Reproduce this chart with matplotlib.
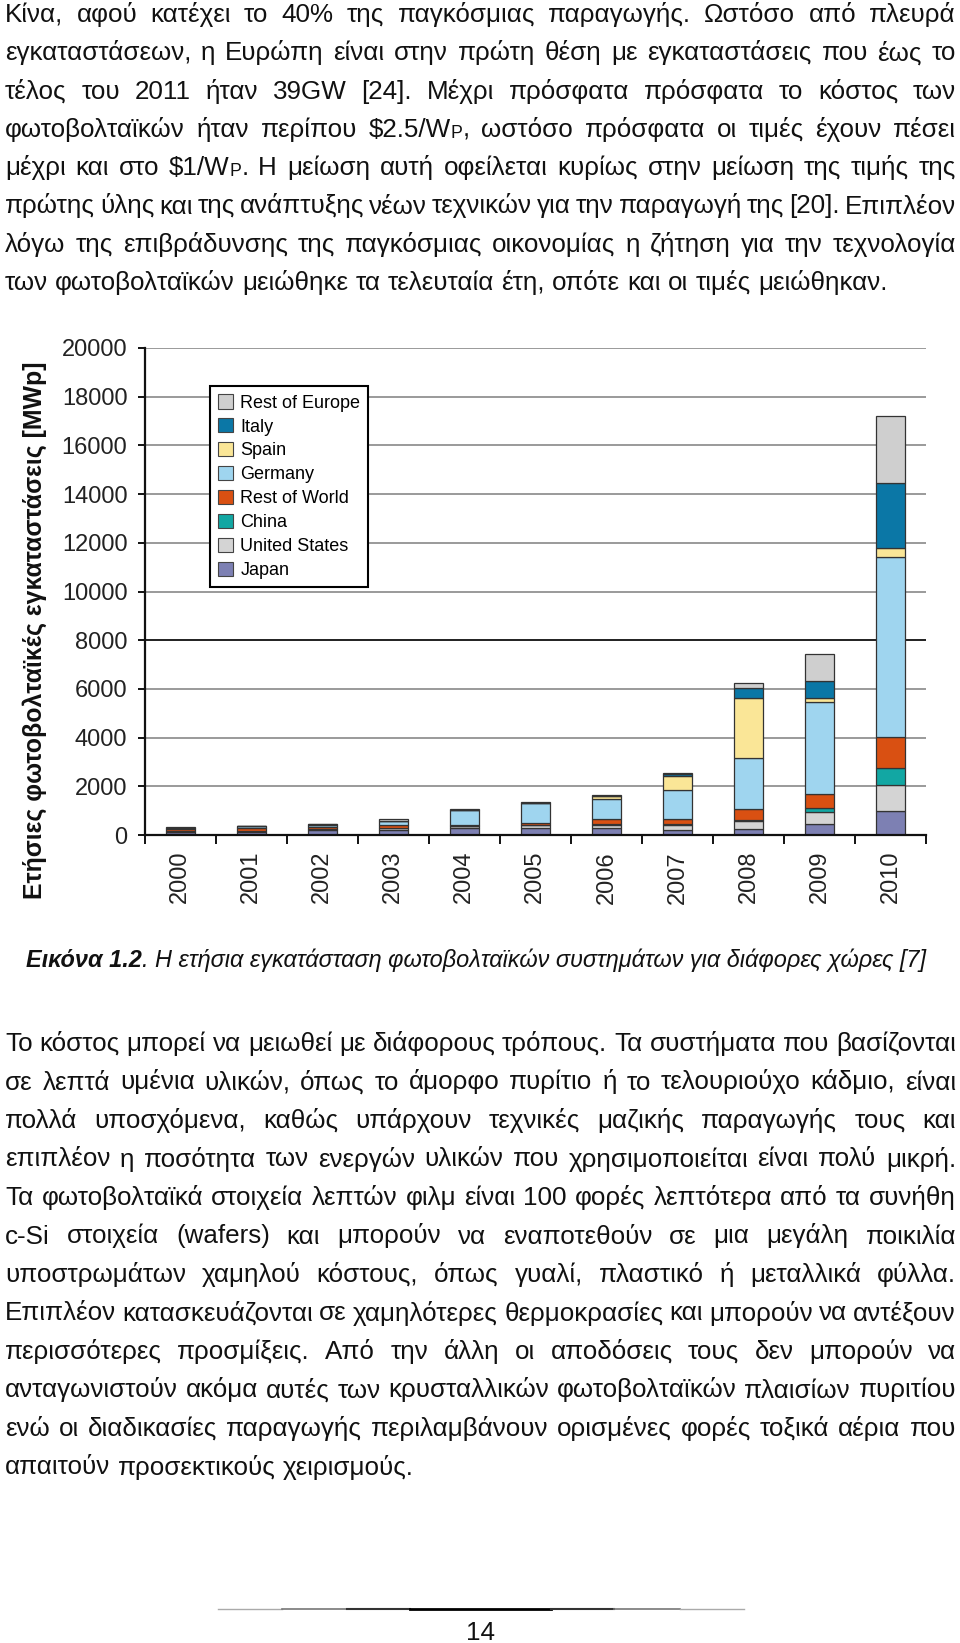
import re
import numpy as np
import matplotlib
matplotlib.use("Agg")
import matplotlib.pyplot as plt
from matplotlib.patches import Patch

# ---------------- data ----------------
years = ["2000", "2001", "2002", "2003", "2004", "2005", "2006", "2007", "2008", "2009", "2010"]
y_ticklabels = ["0", "2000", "4000", "6000", "8000", "10000", "12000", "14000", "16000", "18000", "20000"]
y_tickvalues = [0, 2000, 4000, 6000, 8000, 10000, 12000, 14000, 16000, 18000, 20000]

japan = [120, 135, 185, 220, 270, 300, 290, 210, 230, 470, 990]
united_states = [20, 30, 45, 65, 90, 110, 140, 210, 350, 485, 1060]
china = [5, 5, 5, 10, 10, 10, 10, 20, 50, 165, 710]
rest_of_world = [110, 100, 110, 120, 40, 60, 200, 210, 440, 550, 1270]
germany = [40, 80, 80, 150, 620, 820, 850, 1210, 2110, 3805, 7370]
spain = [5, 5, 5, 10, 10, 20, 100, 580, 2465, 165, 400]
italy = [5, 5, 5, 5, 5, 5, 20, 70, 380, 700, 2640]
rest_of_europe = [5, 10, 20, 60, 15, 15, 30, 50, 230, 1080, 2780]

series_names = ["Japan", "United States", "China", "Rest of World", "Germany", "Spain", "Italy", "Rest of Europe"]
series_values = [japan, united_states, china, rest_of_world, germany, spain, italy, rest_of_europe]
series_colors = ["#7d80b3", "#d4d4d4", "#12a7a3", "#d95012", "#9fd5ef", "#fae697", "#0b77a6", "#cfcfcf"]

ylabel = "Ετήσιες φωτοβολταϊκές εγκαταστάσεις [MWp]"

para1 = [
    "Κίνα, αφού κατέχει το 40% της παγκόσμιας παραγωγής. Ωστόσο από πλευρά",
    "εγκαταστάσεων, η Ευρώπη είναι στην πρώτη θέση με εγκαταστάσεις που έως το",
    "τέλος του 2011 ήταν 39GW [24]. Μέχρι πρόσφατα πρόσφατα το κόστος των",
    "φωτοβολταϊκών ήταν περίπου $2.5/W{P}, ωστόσο πρόσφατα οι τιμές έχουν πέσει",
    "μέχρι και στο $1/W{P}. Η μείωση αυτή οφείλεται κυρίως στην μείωση της τιμής της",
    "πρώτης ύλης και της ανάπτυξης νέων τεχνικών για την παραγωγή της [20]. Επιπλέον",
    "λόγω της επιβράδυνσης της παγκόσμιας οικονομίας η ζήτηση για την τεχνολογία",
    "των φωτοβολταϊκών μειώθηκε τα τελευταία έτη, οπότε και οι τιμές μειώθηκαν.",
]
para2 = [
    "Το κόστος μπορεί να μειωθεί με διάφορους τρόπους. Τα συστήματα που βασίζονται",
    "σε λεπτά υμένια υλικών, όπως το άμορφο πυρίτιο ή το τελουριούχο κάδμιο, είναι",
    "πολλά υποσχόμενα, καθώς υπάρχουν τεχνικές μαζικής παραγωγής τους και",
    "επιπλέον η ποσότητα των ενεργών υλικών που χρησιμοποιείται είναι πολύ μικρή.",
    "Τα φωτοβολταϊκά στοιχεία λεπτών φιλμ είναι 100 φορές λεπτότερα από τα συνήθη",
    "c-Si στοιχεία (wafers) και μπορούν να εναποτεθούν σε μια μεγάλη ποικιλία",
    "υποστρωμάτων χαμηλού κόστους, όπως γυαλί, πλαστικό ή μεταλλικά φύλλα.",
    "Επιπλέον κατασκευάζονται σε χαμηλότερες θερμοκρασίες και μπορούν να αντέξουν",
    "περισσότερες προσμίξεις. Από την άλλη οι αποδόσεις τους δεν μπορούν να",
    "ανταγωνιστούν ακόμα αυτές των κρυσταλλικών φωτοβολταϊκών πλαισίων πυριτίου",
    "ενώ οι διαδικασίες παραγωγής περιλαμβάνουν ορισμένες φορές τοξικά αέρια που",
    "απαιτούν προσεκτικούς χειρισμούς.",
]
caption_bold = "Εικόνα 1.2"
caption_rest = ". Η ετήσια εγκατάσταση φωτοβολταϊκών συστημάτων για διάφορες χώρες [7]"
page_number = "14"

# ---------------- page setup ----------------
W, H = 960, 1643
fig = plt.figure(figsize=(W / 100, H / 100), dpi=100)
fig.patch.set_facecolor("white")
R = fig.canvas.get_renderer()
BODY = ["Liberation Sans", "DejaVu Sans"]
TXT = "#111111"


def fx(x):
    return x / W


def fy(y):
    return 1 - y / H


def text_width(s, fs, weight="normal", style="normal"):
    t = fig.text(0, 0, s, fontsize=fs, fontweight=weight, fontstyle=style,
                 family=BODY, parse_math=False)
    w = t.get_window_extent(R).width
    t.remove()
    return w


def segs(word):
    out = []
    for p in re.split(r"(\{[^}]*\})", word):
        if not p:
            continue
        if p.startswith("{"):
            out.append((p[1:-1], True))
        else:
            out.append((p, False))
    return out


def word_width(word, fs):
    return sum(text_width(s, fs * (0.68 if sub else 1.0)) for s, sub in segs(word))


def draw_word(x, y, word, fs):
    for s, sub in segs(word):
        f = fs * (0.68 if sub else 1.0)
        fig.text(fx(x), fy(y + (1.0 if sub else 0.0)), s, fontsize=f, family=BODY,
                 ha="left", va="baseline", color=TXT, parse_math=False)
        x += text_width(s, f)


def draw_line(y, line, x0, x1, fs, justify):
    words = line.split(" ")
    ws = [word_width(w, fs) for w in words]
    space = text_width("a a", fs) - text_width("aa", fs)
    if justify and len(words) > 1:
        gap = (x1 - x0 - sum(ws)) / (len(words) - 1)
    else:
        gap = space
    x = x0
    for w, wd in zip(words, ws):
        draw_word(x, y, w, fs)
        x += wd + gap


X0, X1 = 5, 956
# font size fitted to the reference width of the last line of paragraph 1
fs_body = 14 * 893 / word_width(para1[-1].replace(" ", "\u00a0"), 14)
# make sure every justified line still fits
for ln in para1[:-1] + para2[:-1]:
    words = ln.split(" ")
    need = sum(word_width(w, 14) for w in words) + (len(words) - 1) * 0.18 * 14 * 100 / 72
    fs_body = min(fs_body, 14 * (X1 - X0) / need)

for i, ln in enumerate(para1):
    draw_line(22 + 38.3 * i, ln, X0, X1, fs_body, justify=(i < len(para1) - 1))
for i, ln in enumerate(para2):
    draw_line(1051 + 38.5 * i, ln, X0, X1, fs_body, justify=(i < len(para2) - 1))

# caption
fs_cap = 14
wb = text_width(caption_bold, fs_cap, "bold", "italic")
wr = text_width(caption_rest, fs_cap, "normal", "italic")
fs_cap = fs_cap * 906 / (wb + wr)
wb = text_width(caption_bold, fs_cap, "bold", "italic")
fig.text(fx(26), fy(967), caption_bold, fontsize=fs_cap, fontweight="bold", fontstyle="italic",
         family=BODY, va="baseline", ha="left", color=TXT, parse_math=False)
fig.text(fx(26 + wb), fy(967), caption_rest, fontsize=fs_cap, fontstyle="italic",
         family=BODY, va="baseline", ha="left", color=TXT, parse_math=False)

# footer line (gradient-like) and page number
footer_x = [218, 282, 347, 410, 551, 614, 680, 744]
footer_c = ["#aaaaaa", "#777777", "#333333", "#000000", "#333333", "#777777", "#aaaaaa"]
footer_w = [1.0, 1.2, 1.5, 2.0, 1.5, 1.2, 1.0]
for i in range(7):
    fig.add_artist(plt.Line2D([fx(footer_x[i]), fx(footer_x[i + 1])], [fy(1609), fy(1609)],
                              color=footer_c[i], lw=footer_w[i]))
fig.text(fx(480), fy(1640), page_number, fontsize=fs_body, family=BODY, ha="center",
         va="baseline", color=TXT, parse_math=False)

# ---------------- chart ----------------
AX_L, AX_R, AX_T, AX_B = 144.7, 926, 348, 835
ax = fig.add_axes([fx(AX_L), fy(AX_B), (AX_R - AX_L) / W, (AX_B - AX_T) / H])
x = np.arange(len(years))
bottom = np.zeros(len(years))
for name, vals, col in zip(series_names, series_values, series_colors):
    v = np.array(vals, dtype=float)
    ax.bar(x, v, 0.41, bottom=bottom, color=col, edgecolor="#333333", linewidth=0.9,
           label=name, zorder=3)
    bottom += v

ax.set_xlim(-0.5, len(years) - 0.5)
ax.set_ylim(0, 20000)
ax.set_yticks(y_tickvalues)
ax.set_yticklabels(y_ticklabels, fontsize=17, family=BODY, color="#222222")
ax.yaxis.grid(True, color="#9a9a9a", lw=1.4, zorder=0)
ax.axhline(8000, color="#1a1a1a", lw=1.3, zorder=1)
ax.set_axisbelow(True)
for s in ["top", "right"]:
    ax.spines[s].set_visible(False)
for s in ["left", "bottom"]:
    ax.spines[s].set_linewidth(1.6)
    ax.spines[s].set_color("#111111")
    ax.spines[s].set_zorder(4)

ax.set_xticks(np.arange(-0.5, len(years), 1.0))
ax.set_xticklabels([])
ax.set_xticks(x, minor=True)
ax.set_xticklabels(years, minor=True, rotation=90, fontsize=17, family=BODY, color="#222222")
ax.tick_params(axis="x", which="major", length=6.5, width=1.4, direction="out", color="#111111")
ax.tick_params(axis="x", which="minor", length=0, pad=11.5)
ax.tick_params(axis="y", length=5.4, width=1.4, pad=7, color="#111111")

# y label fitted to its reference length
fs_yl = 16 * 537 / text_width(ylabel, 16, "bold")
fig.text(fx(35), fy(630), ylabel, fontsize=fs_yl, fontweight="bold", family=BODY, rotation=90,
         ha="center", va="center", color="#111111", parse_math=False)

handles = [Patch(facecolor=c, edgecolor="#444444", lw=0.8, label=n)
           for n, c in zip(series_names[::-1], series_colors[::-1])]
leg = ax.legend(handles=handles, loc="upper left", bbox_to_anchor=(fx(210), fy(386)),
                bbox_transform=fig.transFigure, frameon=True, fancybox=False, edgecolor="black",
                framealpha=1, prop={"family": BODY, "size": 13.0}, handlelength=0.85,
                handleheight=0.85, handletextpad=0.38, labelspacing=0.36, borderpad=0.45,
                borderaxespad=0)
leg.get_frame().set_linewidth(1.5)
leg.set_zorder(5)

fig.savefig("out.png", dpi=100, facecolor="white")
